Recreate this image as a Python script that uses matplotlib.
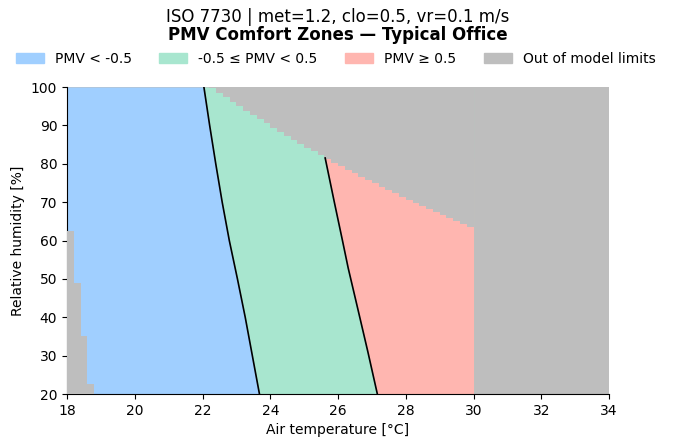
import numpy as np
import matplotlib
matplotlib.use('Agg')
import matplotlib.pyplot as plt
import matplotlib.patches as mpatches

# PMV = -0.5 iso-line (air temperature at given RH)
lo_rh = [100, 90, 80, 70, 60, 50, 40, 30, 20]
lo_t = [22.04, 22.21, 22.39, 22.58, 22.79, 23.03, 23.26, 23.47, 23.68]

# PMV = +0.5 iso-line
hi_rh = [81.5, 70, 60, 52.8, 42.3, 31.0, 20]
hi_t = [25.62, 25.89, 26.13, 26.30, 26.58, 26.88, 27.16]

# upper model limit (vapour pressure), one value per 0.2 degC column from 22.2 to 30.0
lim_edges = np.linspace(22.2, 30.0, 40)
lim_rh = [99.7, 98.5, 97.3, 96.1, 95.0, 93.8, 92.7, 91.6, 90.5, 89.4,
          88.4, 87.3, 86.3, 85.2, 84.2, 83.2, 82.3, 81.3, 80.3, 79.4,
          78.5, 77.5, 76.6, 75.7, 74.9, 74.0, 73.1, 72.3, 71.4, 70.6,
          69.8, 69.0, 68.2, 67.4, 66.6, 65.9, 65.1, 64.4, 63.6]

# lower model limit (PMV < -2) near 18 degC
cold_edges = [18.0, 18.2, 18.4, 18.6, 18.8]
cold_rh = [62.4, 48.8, 35.2, 22.6]

t_max = 30.0

c_blue = '#a0cfff'
c_green = '#a8e6cf'
c_red = '#ffb6b0'
c_grey = '#bebebe'

fig = plt.figure(figsize=(6.73, 4.48), dpi=100)
ax = fig.add_axes([0.0996, 0.1205, 0.8054, 0.6853])
ax.set_facecolor(c_grey)

ax.fill_betweenx(lo_rh, 18, lo_t, color=c_blue, lw=0, zorder=1)
ax.fill_betweenx(lo_rh, lo_t, t_max, color=c_green, lw=0, zorder=1)
ax.fill_betweenx(hi_rh, hi_t, t_max, color=c_red, lw=0, zorder=2)

ax.stairs(lim_rh, lim_edges, baseline=100, fill=True, color=c_grey, zorder=3)
ax.stairs(cold_rh, cold_edges, baseline=20, fill=True, color=c_grey, zorder=3)

ax.plot(lo_t, lo_rh, color='black', lw=1.2, zorder=4)
ax.plot(hi_t, hi_rh, color='black', lw=1.2, zorder=4)

ax.set_xlim(18, 34)
ax.set_ylim(20, 100)
ax.set_xticks(range(18, 35, 2))
ax.set_yticks(range(20, 101, 10))
ax.spines['top'].set_visible(False)
ax.spines['right'].set_visible(False)
ax.set_xlabel('Air temperature [°C]')
ax.set_ylabel('Relative humidity [%]')

fig.text(0.502, 0.962, 'ISO 7730 | met=1.2, clo=0.5, vr=0.1 m/s',
         ha='center', va='center', fontsize=12)
fig.text(0.502, 0.922, 'PMV Comfort Zones — Typical Office',
         ha='center', va='center', fontsize=12, fontweight='bold')

handles = [mpatches.Patch(color=c_blue, label='PMV < -0.5'),
           mpatches.Patch(color=c_green, label='-0.5 ≤ PMV < 0.5'),
           mpatches.Patch(color=c_red, label='PMV ≥ 0.5'),
           mpatches.Patch(color=c_grey, label='Out of model limits')]
fig.legend(handles=handles, loc='center', bbox_to_anchor=(0.499, 0.868),
           ncol=4, frameon=False, fontsize=10)

fig.savefig('out.png', dpi=100)
